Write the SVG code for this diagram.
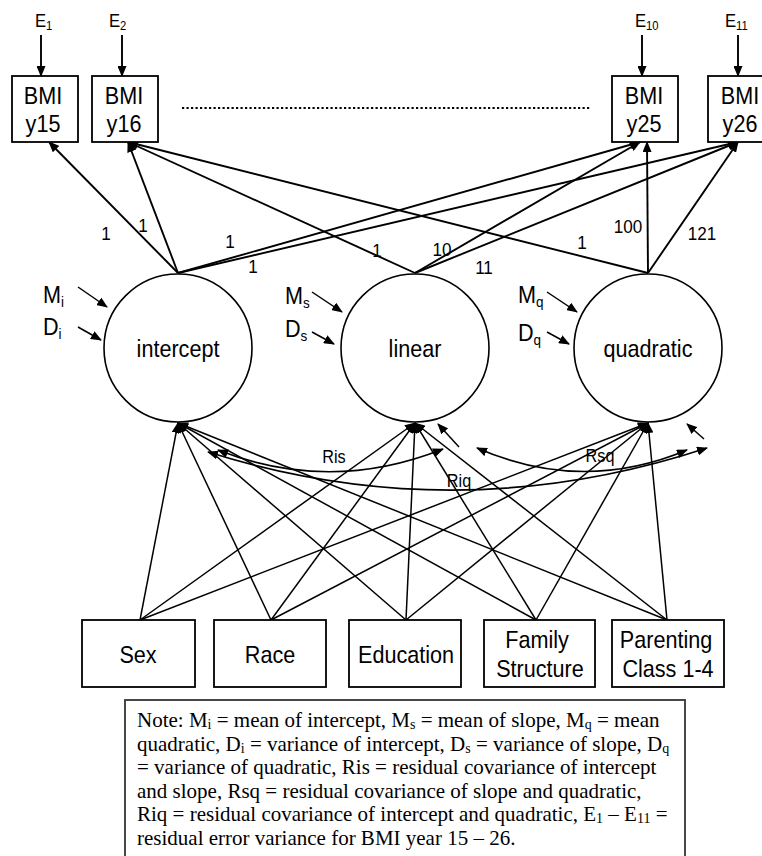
<svg xmlns="http://www.w3.org/2000/svg" width="762" height="856" viewBox="0 0 762 856">
<style>
.sans{font-family:"Liberation Sans",Arial,sans-serif;fill:#000}
.lbl{font-size:24px}
.elbl{font-size:18.5px}
.esub{font-size:12.5px}
.num{font-size:19px}
.sub{font-size:15px}
.cl{font-size:18px}
.box{fill:#fff;stroke:#000;stroke-width:1.8}
.circ{fill:#fff;stroke:#000;stroke-width:1.6}
.ln{fill:none;stroke:#000;stroke-width:1.9}
.pl{fill:none;stroke:#000;stroke-width:1.5}
.arr{marker-end:url(#ah)}
.cov{fill:none;stroke:#000;stroke-width:1.7;marker-start:url(#ah);marker-end:url(#ah)}
.note{font-family:"Liberation Serif","Times New Roman",serif;font-size:21px;fill:#000}
.nsub{font-size:14px}
</style>
<defs>
<marker id="ah" markerUnits="userSpaceOnUse" markerWidth="11" markerHeight="9" refX="10" refY="4.5" orient="auto-start-reverse">
<path d="M0,0 L11,4.5 L0,9 z" fill="#000"/>
</marker>
</defs>
<g id="connectors">
<line class="ln arr" x1="41" y1="35" x2="41" y2="76"/>
<line class="ln arr" x1="122" y1="35" x2="122" y2="76"/>
<line class="ln arr" x1="642" y1="35" x2="642" y2="76"/>
<line class="ln arr" x1="738" y1="35" x2="738" y2="76"/>
<line class="ln arr" x1="178" y1="273" x2="49" y2="142"/>
<line class="ln arr" x1="178" y1="273" x2="128" y2="142"/>
<line class="ln arr" x1="178" y1="273" x2="640" y2="142"/>
<line class="ln arr" x1="178" y1="273" x2="738" y2="142"/>
<line class="ln arr" x1="415" y1="273" x2="128" y2="142"/>
<line class="ln arr" x1="415" y1="273" x2="640" y2="142"/>
<line class="ln arr" x1="415" y1="273" x2="738" y2="142"/>
<line class="ln arr" x1="648" y1="273" x2="128" y2="142"/>
<line class="ln arr" x1="648" y1="273" x2="647" y2="142"/>
<line class="ln arr" x1="648" y1="273" x2="738" y2="142"/>
<line class="pl arr" x1="78" y1="287" x2="107" y2="307"/>
<line class="pl arr" x1="78" y1="327" x2="101" y2="340"/>
<line class="pl arr" x1="312" y1="292" x2="342" y2="312"/>
<line class="pl arr" x1="312" y1="332" x2="334" y2="344"/>
<line class="pl arr" x1="547" y1="292" x2="577" y2="312"/>
<line class="pl arr" x1="547" y1="332" x2="569" y2="344"/>
<line class="pl arr" x1="140" y1="620" x2="178" y2="423"/>
<line class="pl arr" x1="140" y1="620" x2="415" y2="423"/>
<line class="pl arr" x1="140" y1="620" x2="648" y2="423"/>
<line class="pl arr" x1="271" y1="620" x2="178" y2="423"/>
<line class="pl arr" x1="271" y1="620" x2="415" y2="423"/>
<line class="pl arr" x1="271" y1="620" x2="648" y2="423"/>
<line class="pl arr" x1="406" y1="620" x2="178" y2="423"/>
<line class="pl arr" x1="406" y1="620" x2="415" y2="423"/>
<line class="pl arr" x1="406" y1="620" x2="648" y2="423"/>
<line class="pl arr" x1="536" y1="620" x2="178" y2="423"/>
<line class="pl arr" x1="536" y1="620" x2="415" y2="423"/>
<line class="pl arr" x1="536" y1="620" x2="648" y2="423"/>
<line class="pl arr" x1="667" y1="620" x2="178" y2="423"/>
<line class="pl arr" x1="667" y1="620" x2="415" y2="423"/>
<line class="pl arr" x1="667" y1="620" x2="648" y2="423"/>
<line class="pl arr" x1="459" y1="447" x2="438" y2="424"/>
<line class="pl arr" x1="704" y1="439" x2="687" y2="424"/>
<path class="cov" d="M218,450 Q330,494 443,449"/>
<path class="cov" d="M208,452 Q457,530 707,448"/>
<path class="cov" d="M477,448 Q582,494 687,450"/>
<line x1="182" y1="108" x2="590" y2="108" stroke="#000" stroke-width="2.2" stroke-dasharray="2.2,2.3"/>
</g>
<g id="E1"><text class="sans elbl" transform="translate(35,27) scale(.9,1)">E<tspan class="esub" dy="3">1</tspan></text></g>
<g id="E2"><text class="sans elbl" transform="translate(109,27) scale(.9,1)">E<tspan class="esub" dy="3">2</tspan></text></g>
<g id="E10"><text class="sans elbl" transform="translate(635,27) scale(.9,1)">E<tspan class="esub" dy="3">10</tspan></text></g>
<g id="E11"><text class="sans elbl" transform="translate(725,27) scale(.9,1)">E<tspan class="esub" dy="3">11</tspan></text></g>
<g id="bmi15"><rect class="box" x="12" y="76" width="66" height="66"/><text class="sans lbl" text-anchor="middle" transform="translate(43,104) scale(.9,1)">BMI</text><text class="sans lbl" text-anchor="middle" transform="translate(43,132) scale(.9,1)">y15</text></g>
<g id="bmi16"><rect class="box" x="92" y="76" width="66" height="66"/><text class="sans lbl" text-anchor="middle" transform="translate(124,104) scale(.9,1)">BMI</text><text class="sans lbl" text-anchor="middle" transform="translate(124,132) scale(.9,1)">y16</text></g>
<g id="bmi25"><rect class="box" x="612" y="76" width="66" height="66"/><text class="sans lbl" text-anchor="middle" transform="translate(644,104) scale(.9,1)">BMI</text><text class="sans lbl" text-anchor="middle" transform="translate(644,132) scale(.9,1)">y25</text></g>
<g id="bmi26"><rect class="box" x="708" y="76" width="66" height="66"/><text class="sans lbl" text-anchor="middle" transform="translate(740,104) scale(.9,1)">BMI</text><text class="sans lbl" text-anchor="middle" transform="translate(740,132) scale(.9,1)">y26</text></g>
<g id="loadings" class="sans num" text-anchor="middle">
<text transform="translate(106,240) scale(.9,1)">1</text>
<text transform="translate(143,232) scale(.9,1)">1</text>
<text transform="translate(230,248) scale(.9,1)">1</text>
<text transform="translate(253,273) scale(.9,1)">1</text>
<text transform="translate(377,257) scale(.9,1)">1</text>
<text transform="translate(442,256) scale(.9,1)">10</text>
<text transform="translate(484,274) scale(.9,1)">11</text>
<text transform="translate(582,249) scale(.9,1)">1</text>
<text transform="translate(628,233) scale(.9,1)">100</text>
<text transform="translate(702,240) scale(.9,1)">121</text>
</g>
<g id="meanvar" class="sans lbl">
<text transform="translate(43,303) scale(.9,1)">M<tspan class="sub" dy="4">i</tspan></text>
<text transform="translate(43,335) scale(.9,1)">D<tspan class="sub" dy="4">i</tspan></text>
<text transform="translate(285,304) scale(.9,1)">M<tspan class="sub" dy="4">s</tspan></text>
<text transform="translate(285,337) scale(.9,1)">D<tspan class="sub" dy="4">s</tspan></text>
<text transform="translate(518,303) scale(.9,1)">M<tspan class="sub" dy="4">q</tspan></text>
<text transform="translate(518,341) scale(.9,1)">D<tspan class="sub" dy="4">q</tspan></text>
</g>
<g id="intercept"><circle class="circ" cx="178" cy="348" r="74"/><text class="sans lbl" text-anchor="middle" transform="translate(178,357) scale(.9,1)">intercept</text></g>
<g id="linear"><circle class="circ" cx="415" cy="348" r="74"/><text class="sans lbl" text-anchor="middle" transform="translate(415,357) scale(.9,1)">linear</text></g>
<g id="quadratic"><circle class="circ" cx="648" cy="348" r="74"/><text class="sans lbl" text-anchor="middle" transform="translate(648,357) scale(.9,1)">quadratic</text></g>
<g id="covlabels" class="sans cl" text-anchor="middle">
<text transform="translate(334,463) scale(.9,1)">Ris</text>
<text transform="translate(459,487) scale(.9,1)">Riq</text>
<text transform="translate(600,462) scale(.9,1)">Rsq</text>
</g>
<g id="sex"><rect class="box" x="82" y="620" width="113" height="67"/><text class="sans lbl" text-anchor="middle" transform="translate(138,663) scale(.9,1)">Sex</text></g>
<g id="race"><rect class="box" x="214" y="620" width="112" height="67"/><text class="sans lbl" text-anchor="middle" transform="translate(270,663) scale(.9,1)">Race</text></g>
<g id="education"><rect class="box" x="349" y="620" width="112" height="67"/><text class="sans lbl" text-anchor="middle" transform="translate(406,663) scale(.9,1)">Education</text></g>
<g id="family"><rect class="box" x="484" y="620" width="111" height="67"/><text class="sans lbl" text-anchor="middle" transform="translate(537,648) scale(.9,1)">Family</text><text class="sans lbl" text-anchor="middle" transform="translate(540,677) scale(.9,1)">Structure</text></g>
<g id="parenting"><rect class="box" x="612" y="620" width="112" height="67"/><text class="sans lbl" text-anchor="middle" transform="translate(666,648) scale(.9,1)">Parenting</text><text class="sans lbl" text-anchor="middle" transform="translate(668,677) scale(.9,1)">Class 1-4</text></g>
<g id="note">
<rect x="125" y="700" width="560" height="180" fill="#fff" stroke="#333" stroke-width="1.8"/>
<text class="note" x="137" y="727">Note: M<tspan class="nsub" dy="2">i</tspan><tspan dy="-2"> = mean of intercept, M</tspan><tspan class="nsub" dy="2">s</tspan><tspan dy="-2"> = mean of slope, M</tspan><tspan class="nsub" dy="2">q</tspan><tspan dy="-2"> = mean</tspan></text>
<text class="note" x="137" y="750.6">quadratic, D<tspan class="nsub" dy="2">i</tspan><tspan dy="-2"> = variance of intercept, D</tspan><tspan class="nsub" dy="2">s</tspan><tspan dy="-2"> = variance of slope, D</tspan><tspan class="nsub" dy="2">q</tspan></text>
<text class="note" x="137" y="774.2">= variance of quadratic, Ris = residual covariance of intercept</text>
<text class="note" x="137" y="797.8">and slope, Rsq = residual covariance of slope and quadratic,</text>
<text class="note" x="137" y="821.4">Riq = residual covariance of intercept and quadratic, E<tspan class="nsub" dy="2">1</tspan><tspan dy="-2"> – E</tspan><tspan class="nsub" dy="2">11</tspan><tspan dy="-2"> =</tspan></text>
<text class="note" x="137" y="845">residual error variance for BMI year 15 – 26.</text>
</g>
</svg>
